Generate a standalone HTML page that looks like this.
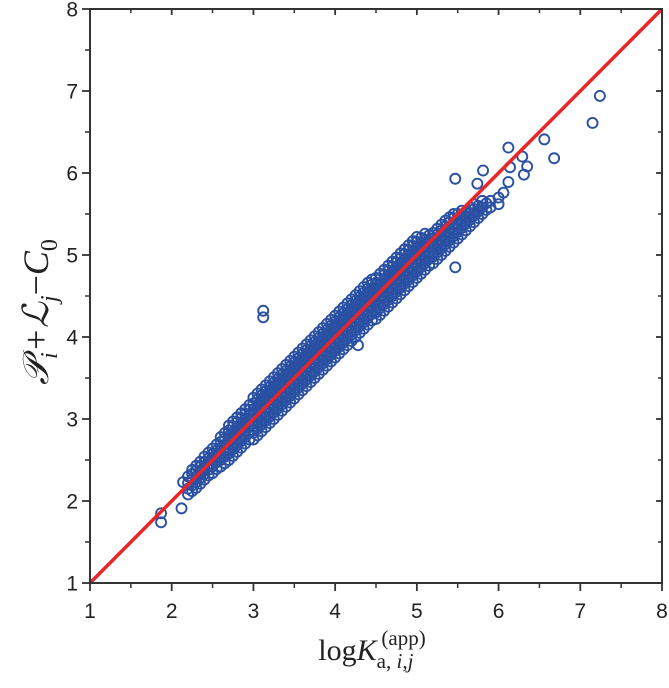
<!DOCTYPE html>
<html><head><meta charset="utf-8"><style>
html,body{margin:0;padding:0;background:#fff;}
svg{display:block;}
</style></head><body>
<svg id="chart" width="669" height="688" xmlns="http://www.w3.org/2000/svg">
<g id="points"></g>
<line id="fit" stroke="#e8262a" stroke-width="3.5"/>
<g id="axes"></g>
<text x="372" y="660" text-anchor="middle" font-family="Liberation Serif, serif" font-size="30" fill="#222">log<tspan font-style="italic">K</tspan><tspan font-size="21" dy="8">a, </tspan><tspan font-size="21" font-style="italic">i</tspan><tspan font-size="21">,</tspan><tspan font-size="21" font-style="italic">j</tspan><tspan font-size="21" dx="-32" dy="-23">(app)</tspan></text>
<text transform="translate(48,312) rotate(-90)" text-anchor="middle" font-family="Liberation Serif, DejaVu Serif, serif" font-size="36" font-style="italic" fill="#222">𝒫<tspan font-size="24" dy="9">i</tspan><tspan dy="-9">+ℒ</tspan><tspan font-size="24" dy="9">j</tspan><tspan dy="-9" font-style="normal">−</tspan>C<tspan font-size="24" dy="9" font-style="normal">0</tspan></text>
</svg>
<script>
const xTicks=[1,2,3,4,5,6,7,8];
const yTicks=[1,2,3,4,5,6,7,8];
const bandX=[2.20,2.25,2.30,2.35,2.40,2.45,2.50,2.55,2.60,2.65,2.70,2.75,2.80,2.85,2.90,2.95,3.00,3.05,3.10,3.15,3.20,3.25,3.30,3.35,3.40,3.45,3.50,3.55,3.60,3.65,3.70,3.75,3.80,3.85,3.90,3.95,4.00,4.05,4.10,4.15,4.20,4.25,4.30,4.35,4.40,4.45,4.50,4.55,4.60,4.65,4.70,4.75,4.80,4.85,4.90,4.95,5.00,5.05,5.10,5.15,5.20,5.25,5.30,5.35,5.40,5.45,5.50,5.55,5.60,5.65,5.70,5.75,5.80,5.85,5.90,6.00];
const bandY=[
[2.08,2.15,2.22,2.30],[2.12,2.19,2.26,2.33,2.38],[2.16,2.23,2.30,2.37,2.43],[2.21,2.28,2.35,2.42,2.48],[2.26,2.33,2.40,2.47,2.54],[2.31,2.38,2.45,2.52,2.59],[2.34,2.42,2.50,2.57,2.64],[2.39,2.47,2.55,2.62,2.69],
[2.42,2.50,2.58,2.65,2.72,2.78],[2.46,2.54,2.62,2.69,2.76,2.83],[2.50,2.58,2.65,2.72,2.79,2.86,2.92],[2.55,2.63,2.70,2.77,2.84,2.91,2.97],[2.60,2.68,2.75,2.82,2.89,2.96,3.02],[2.65,2.73,2.80,2.87,2.94,3.01,3.07],[2.70,2.78,2.85,2.92,2.99,3.06,3.12],[2.75,2.83,2.90,2.97,3.04,3.11,3.17],
[2.75,2.83,2.91,2.98,3.05,3.12,3.19,3.26],[2.80,2.88,2.96,3.03,3.10,3.17,3.24,3.31],[2.85,2.93,3.01,3.08,3.15,3.22,3.29,3.36],[2.90,2.98,3.06,3.13,3.20,3.27,3.34,3.41],[2.95,3.03,3.11,3.18,3.25,3.32,3.39,3.46],[3.00,3.08,3.16,3.23,3.30,3.37,3.44,3.51],[3.05,3.13,3.21,3.28,3.35,3.42,3.49,3.56],[3.10,3.18,3.26,3.33,3.40,3.47,3.54,3.61],[3.15,3.23,3.31,3.38,3.45,3.52,3.59,3.66],[3.20,3.28,3.36,3.43,3.50,3.57,3.64,3.71],[3.25,3.33,3.41,3.48,3.55,3.62,3.69,3.76],[3.30,3.38,3.46,3.53,3.60,3.67,3.74,3.81],[3.35,3.43,3.51,3.58,3.65,3.72,3.79,3.86],[3.40,3.48,3.56,3.63,3.70,3.77,3.84,3.91],[3.45,3.53,3.61,3.68,3.75,3.82,3.89,3.96],[3.50,3.58,3.66,3.73,3.80,3.87,3.94,4.01],[3.55,3.63,3.71,3.78,3.85,3.92,3.99,4.06],[3.60,3.68,3.76,3.83,3.90,3.97,4.04,4.11],[3.65,3.73,3.81,3.88,3.95,4.02,4.09,4.16],[3.70,3.78,3.86,3.93,4.00,4.07,4.14,4.21],[3.75,3.83,3.91,3.98,4.05,4.12,4.19,4.26],[3.80,3.88,3.96,4.03,4.10,4.17,4.24,4.31],[3.85,3.93,4.01,4.08,4.15,4.22,4.29,4.36],[3.90,3.98,4.06,4.13,4.20,4.27,4.34,4.41],[3.95,4.03,4.11,4.18,4.25,4.32,4.39,4.46],[4.00,4.08,4.16,4.23,4.30,4.37,4.44,4.51],[4.05,4.13,4.21,4.28,4.35,4.42,4.49,4.56],[4.10,4.18,4.26,4.33,4.40,4.47,4.54,4.61],[4.15,4.23,4.31,4.38,4.45,4.52,4.59,4.66],[4.20,4.28,4.36,4.43,4.50,4.57,4.64,4.70],[4.22,4.30,4.38,4.45,4.52,4.59,4.66,4.72],
[4.27,4.35,4.43,4.50,4.57,4.64,4.71,4.77],[4.32,4.40,4.48,4.55,4.62,4.69,4.76,4.82],[4.37,4.45,4.53,4.60,4.67,4.74,4.81,4.87],[4.42,4.50,4.58,4.65,4.72,4.79,4.86,4.92],[4.47,4.55,4.63,4.70,4.77,4.84,4.91,4.97],[4.52,4.60,4.68,4.75,4.82,4.89,4.96,5.02],[4.57,4.65,4.73,4.80,4.87,4.94,5.01,5.07],[4.62,4.70,4.78,4.85,4.92,4.99,5.06,5.12],[4.67,4.75,4.83,4.90,4.97,5.04,5.11,5.17],[4.72,4.80,4.88,4.95,5.02,5.09,5.16,5.22],
[4.77,4.85,4.93,5.00,5.07,5.14,5.21],[4.82,4.90,4.98,5.05,5.12,5.19,5.26],[4.87,4.95,5.03,5.10,5.17,5.24],[4.90,4.98,5.06,5.13,5.20,5.27],[4.95,5.03,5.11,5.18,5.25,5.32],[5.00,5.08,5.16,5.23,5.30,5.37],[5.05,5.13,5.21,5.28,5.35,5.42],[5.10,5.18,5.26,5.33,5.40,5.46],[5.15,5.23,5.31,5.38,5.45,5.50],[5.20,5.28,5.36,5.43,5.50],[5.25,5.33,5.41,5.48,5.54],[5.30,5.38,5.46,5.53],[5.35,5.43,5.51,5.58],[5.40,5.48,5.56,5.62],[5.45,5.53,5.60],[5.50,5.58,5.66],[5.55,5.63],[5.58,5.66],[5.62,5.70]];
const outlierX=[7.24,7.15,6.56,6.68,6.12,6.29,6.35,6.31,6.14,6.12,5.81,5.47,5.47,6.06,5.74,3.12,3.12,1.87,1.87,2.12,2.14,4.28];
const outlierY=[6.94,6.61,6.41,6.18,6.31,6.20,6.08,5.98,6.07,5.89,6.03,5.93,4.85,5.76,5.87,4.32,4.24,1.85,1.74,1.91,2.23,3.90];

const NS='http://www.w3.org/2000/svg';
const X0=90,X1=662,Y0=583,Y1=9;
const sx=v=>X0+(v-1)*(X1-X0)/7;
const sy=v=>Y0-(v-1)*(Y0-Y1)/7;
const pts=document.getElementById('points');
function dot(x,y){
  const c=document.createElementNS(NS,'circle');
  c.setAttribute('cx',sx(x));c.setAttribute('cy',sy(y));c.setAttribute('r',5);
  c.setAttribute('fill','none');c.setAttribute('stroke','#2a50a3');c.setAttribute('stroke-width','1.9');
  
  
  pts.appendChild(c);
}
bandX.forEach((x,i)=>bandY[i].forEach(y=>dot(x,y)));
outlierX.forEach((x,i)=>dot(x,outlierY[i]));
const fl=document.getElementById('fit');
fl.setAttribute('x1',sx(1));fl.setAttribute('y1',sy(1));fl.setAttribute('x2',sx(8));fl.setAttribute('y2',sy(8));
const ax=document.getElementById('axes');
function ln(x1,y1,x2,y2,w){const l=document.createElementNS(NS,'line');l.setAttribute('x1',x1);l.setAttribute('y1',y1);l.setAttribute('x2',x2);l.setAttribute('y2',y2);l.setAttribute('stroke','#333');l.setAttribute('stroke-width',w);


ax.appendChild(l);}
const fr=document.createElementNS(NS,'rect');
fr.setAttribute('x',X0);fr.setAttribute('y',Y1);fr.setAttribute('width',X1-X0);fr.setAttribute('height',Y0-Y1);
fr.setAttribute('fill','none');fr.setAttribute('stroke','#333');fr.setAttribute('stroke-width','2');


ax.appendChild(fr);
function txt(x,y,s,anchor,name){const t=document.createElementNS(NS,'text');t.setAttribute('x',x);t.setAttribute('y',y);t.setAttribute('text-anchor',anchor);t.setAttribute('font-family','Liberation Sans, sans-serif');t.setAttribute('font-size','21');t.setAttribute('fill','#222');t.textContent=s;


ax.appendChild(t);}
xTicks.forEach((v,i)=>{const x=sx(v);ln(x,Y0,x,Y0+8,1.8);ln(x,Y1,x,Y1+6,1.8);txt(x,618,String(v),'middle','x-tick-label');
 if(i<xTicks.length-1){const m=sx(v+0.5);ln(m,Y0,m,Y0+5,1.5);ln(m,Y1,m,Y1+4,1.5);}});
yTicks.forEach((v,i)=>{const y=sy(v);ln(X0,y,X0-8,y,1.8);ln(X1,y,X1-6,y,1.8);txt(78,y+7.5,String(v),'end','y-tick-label');
 if(i<yTicks.length-1){const m=sy(v+0.5);ln(X0,m,X0-5,m,1.5);ln(X1,m,X1-4,m,1.5);}});
</script>
</body></html>
